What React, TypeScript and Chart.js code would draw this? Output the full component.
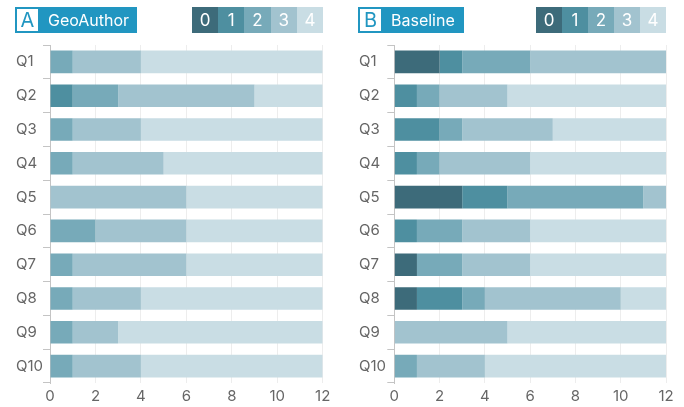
import React, { useEffect, useRef } from 'react';
import { Chart, registerables } from 'chart.js';

Chart.register(...registerables);

const questions = ['Q1', 'Q2', 'Q3', 'Q4', 'Q5', 'Q6', 'Q7', 'Q8', 'Q9', 'Q10'];
const levels = ['0', '1', '2', '3', '4'];
const levelColors = ['#3d6b7a', '#4e8fa0', '#77aab9', '#a2c3cf', '#c9dde4'];
const xMax = 12;
const xStep = 2;

// Panel A: GeoAuthor
const geoL0 = [0, 0, 0, 0, 0, 0, 0, 0, 0, 0];
const geoL1 = [0, 1, 0, 0, 0, 0, 0, 0, 0, 0];
const geoL2 = [1, 2, 1, 1, 0, 2, 1, 1, 1, 1];
const geoL3 = [3, 6, 3, 4, 6, 4, 5, 3, 2, 3];
const geoL4 = [8, 3, 8, 7, 6, 6, 6, 8, 9, 8];

// Panel B: Baseline
const baseL0 = [2, 0, 0, 0, 3, 0, 1, 1, 0, 0];
const baseL1 = [1, 1, 2, 1, 2, 1, 0, 2, 0, 0];
const baseL2 = [3, 1, 1, 1, 6, 2, 2, 1, 0, 1];
const baseL3 = [6, 3, 4, 4, 1, 3, 3, 6, 5, 3];
const baseL4 = [0, 7, 5, 6, 0, 6, 6, 2, 7, 8];

const FONT = 'Inter, "Noto Sans", sans-serif';
const BADGE = '#2196c1';

type PanelProps = {
  panelLeft: number;
  letter: string;
  title: string;
  badgeLeft: number;
  badgeWidth: number;
  legendLeft: number;
  legendWidth: number;
  padLeft: number;
  axisWidth: number;
  padRight: number;
  series: number[][];
};

function Panel(p: PanelProps) {
  const ref = useRef<HTMLCanvasElement>(null);
  useEffect(() => {
    if (!ref.current) return;
    const chart = new Chart(ref.current, {
      type: 'bar',
      data: {
        labels: questions,
        datasets: levels.map((lv, i) => ({
          label: lv,
          data: p.series[i],
          backgroundColor: levelColors[i],
          borderWidth: 0,
          barPercentage: 0.67,
          categoryPercentage: 1,
        })),
      },
      options: {
        indexAxis: 'y',
        animation: false,
        responsive: false,
        devicePixelRatio: 1,
        layout: { padding: { left: p.padLeft, right: p.padRight, top: 45, bottom: 0 } },
        plugins: { legend: { display: false }, tooltip: { enabled: false } },
        scales: {
          x: {
            stacked: true,
            min: 0,
            max: xMax,
            z: 1,
            afterFit: (s: any) => { s.height = 24; },
            ticks: { stepSize: xStep, color: '#666', font: { family: FONT, size: 15 }, padding: 4, maxRotation: 0 },
            grid: { color: 'rgba(0,0,0,0.07)', drawTicks: false },
            border: { display: false },
          },
          y: {
            stacked: true,
            afterFit: (s: any) => { s.width = p.axisWidth; },
            ticks: { color: '#666', font: { family: FONT, size: 15 }, crossAlign: 'far' },
            grid: { drawOnChartArea: false, offset: true, drawTicks: true, tickLength: 7, color: '#c4c4c4' },
            border: { display: true, color: '#c4c4c4' },
          },
        },
      },
    } as any);
    return () => chart.destroy();
  }, []);

  const boxW = p.legendWidth / levels.length;
  return (
    <div style={{ position: 'absolute', left: p.panelLeft, top: 0, width: 342, height: 407 }}>
      <canvas ref={ref} width={342} height={407} style={{ position: 'absolute', left: 0, top: 0, width: 342, height: 407 }} />
      <div style={{ position: 'absolute', left: p.badgeLeft, top: 7, width: p.badgeWidth, height: 26, background: BADGE, fontFamily: FONT }}>
        <div style={{ position: 'absolute', left: 2, top: 2, width: 21, height: 22, background: '#fff', color: BADGE, fontSize: 20, lineHeight: '22px', textAlign: 'center' }}>{p.letter}</div>
        <div style={{ position: 'absolute', left: 33, top: 0, height: 26, color: '#fff', fontSize: 16, lineHeight: '26px', whiteSpace: 'nowrap' }}>{p.title}</div>
      </div>
      {levels.map((lv, i) => (
        <div key={lv} style={{ position: 'absolute', left: p.legendLeft + i * boxW, top: 7, width: boxW, height: 26, background: levelColors[i], color: '#fff', fontFamily: FONT, fontSize: 17, lineHeight: '26px', textAlign: 'center' }}>{lv}</div>
      ))}
    </div>
  );
}

export default function App() {
  return (
    <div style={{ position: 'absolute', left: 0, top: 0, width: 684, height: 407, background: '#fff', overflow: 'hidden' }}>
      <Panel panelLeft={0} letter="A" title="GeoAuthor" badgeLeft={15} badgeWidth={122} legendLeft={192} legendWidth={131}
        padLeft={16} axisWidth={34} padRight={19.3} series={[geoL0, geoL1, geoL2, geoL3, geoL4]} />
      <Panel panelLeft={342} letter="B" title="Baseline" badgeLeft={16} badgeWidth={106} legendLeft={194} legendWidth={130}
        padLeft={17} axisWidth={35.3} padRight={18} series={[baseL0, baseL1, baseL2, baseL3, baseL4]} />
    </div>
  );
}
